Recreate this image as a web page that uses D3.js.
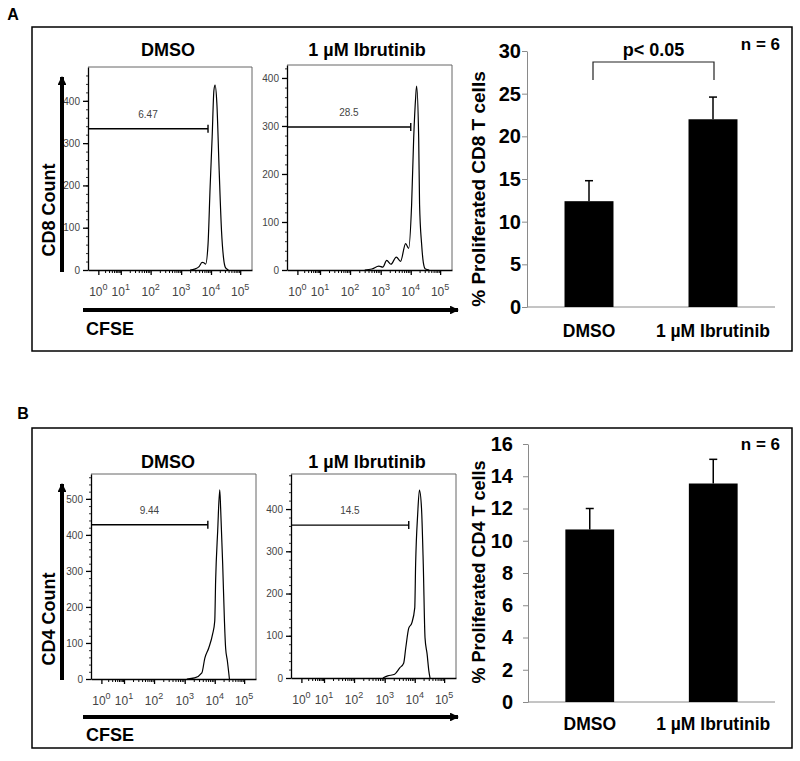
<!DOCTYPE html>
<html><head><meta charset="utf-8">
<script src="https://cdn.jsdelivr.net/npm/d3@7"></script>
<style>body{margin:0;background:#fff} svg{display:block}</style>
</head><body>
<script>
// ---------------- DATA ----------------
const conditions = ["DMSO", "1 µM Ibrutinib"];
const decadeTicks = [0, 1, 2, 3, 4, 5];

// histogram points: [log10 CFSE, count]
const cd8DmsoHist = [[3.3,0],[3.45,2],[3.6,8],[3.7,18],[3.76,17],[3.82,14],[3.9,60],[3.97,195],[4.04,315],[4.1,425],[4.14,437],[4.2,395],[4.28,235],[4.36,93],[4.43,28],[4.5,5],[4.6,0]];
const cd8IbrHist = [[2.48,0],[2.71,2],[2.94,8],[3.07,6],[3.2,20],[3.34,12],[3.52,27],[3.66,18],[3.83,55],[3.93,45],[4.03,137],[4.1,275],[4.17,362],[4.2,383],[4.27,275],[4.3,137],[4.37,54],[4.43,15],[4.5,2],[4.63,0]];
const cd4DmsoHist = [[3.07,0],[3.33,3],[3.57,17],[3.67,58],[3.8,86],[3.93,125],[4.0,161],[4.03,272],[4.1,411],[4.17,525],[4.2,475],[4.27,319],[4.33,161],[4.37,86],[4.43,50],[4.5,0]];
const cd4IbrHist = [[2.94,0],[3.1,5],[3.33,9],[3.5,24],[3.63,35],[3.7,71],[3.8,118],[3.9,130],[4.0,166],[4.03,270],[4.1,388],[4.16,445],[4.23,402],[4.29,270],[4.35,95],[4.42,57],[4.48,17],[4.52,0]];

const cd8GateLabels = ["6.47", "28.5"];
const cd8GateLevels = [334, 298];
const cd8GateEnds = [3.9, 4.0];
const cd4GateLabels = ["9.44", "14.5"];
const cd4GateLevels = [428, 362];
const cd4GateEnds = [3.77, 3.8];

const cd8CountTicks = [[0,100,200,300,400],[0,100,200,300,400]];
const cd4CountTicks = [[0,100,200,300,400,500],[0,100,200,300,400]];

const cd8Means = [12.4, 22.0];
const cd8Errors = [2.4, 2.6];
const cd4Means = [10.7, 13.55];
const cd4Errors = [1.3, 1.5];
const cd8PctTicks = [0,5,10,15,20,25,30];
const cd4PctTicks = [0,2,4,6,8,10,12,14,16];

// ---------------- DRAW ----------------
const W = 800, H = 761;
const svg = d3.select("body").append("svg").attr("width", W).attr("height", H);
const BOLD = "'Liberation Sans', Arial, sans-serif";
const NARROW = "'Liberation Sans Narrow', 'Arial Narrow', 'Liberation Sans', sans-serif";

// panel boxes
[[32,27,792,351],[32,428,792,748]].forEach(([x0,y0,x1,y1]) => {
  svg.append("rect").attr("x",x0).attr("y",y0).attr("width",x1-x0).attr("height",y1-y0)
    .attr("fill","none").attr("stroke","#000").attr("stroke-width",1.5);
});
svg.append("text").attr("x",13).attr("y",20).attr("text-anchor","middle")
  .style("font", `bold 16px ${BOLD}`).text("A");
svg.append("text").attr("x",23).attr("y",419).attr("text-anchor","middle")
  .style("font", `bold 16px ${BOLD}`).text("B");

// arrowheads
const defs = svg.append("defs");
defs.append("marker").attr("id","arr").attr("viewBox","0 0 10 10").attr("refX",9).attr("refY",5)
  .attr("markerWidth",2.2).attr("markerHeight",2.2).attr("orient","auto")
  .append("path").attr("d","M0,0 L10,5 L0,10 z").attr("fill","#000");

function drawHist(fr, yMax, ticks, data, gateLevel, gateEnd, gateLabel, title, titleX, titleY) {
  const g = svg.append("g");
  const fr8 = [0, 0.063, 0.2, 0.382, 0.568, 0.75, 0.928, 1];
  const x = d3.scaleLinear().domain([-0.35,0,1,2,3,4,5,5.4])
    .range(fr8.map(f => fr.x0 + f*(fr.x1-fr.x0)));
  const y = d3.scaleLinear().domain([0, yMax]).range([fr.y1, fr.y0]);

  g.append("path").attr("d", `M${fr.x0},${fr.y0}H${fr.x1}V${fr.y1}`)
    .attr("fill","none").attr("stroke","#666").attr("stroke-width",1);

  const minor = d3.range(0, yMax, 20);
  g.append("g").attr("transform",`translate(${fr.x0},0)`)
    .call(d3.axisLeft(y).tickValues(minor).tickSize(2).tickSizeOuter(0).tickFormat(""))
    .call(a => a.select(".domain").remove())
    .call(a => a.selectAll("line").attr("stroke","#333"));
  g.append("g").attr("transform",`translate(${fr.x0},0)`)
    .call(d3.axisLeft(y).tickValues(ticks).tickSize(5).tickSizeOuter(0).tickPadding(3).tickFormat(d3.format("d")))
    .call(a => a.select(".domain").attr("stroke","#000").attr("stroke-width",1.3))
    .call(a => a.selectAll("line").attr("stroke","#000").attr("stroke-width",1.3))
    .call(a => a.selectAll("text").style("font", `10px ${NARROW}`).attr("fill","#444"));

  const minorX = [];
  decadeTicks.slice(0,5).forEach(d => { for (let k=2;k<=9;k++) minorX.push(d + Math.log10(k)); });
  g.append("g").attr("transform",`translate(0,${fr.y1})`)
    .call(d3.axisBottom(x).tickValues(minorX).tickSize(3).tickSizeOuter(0).tickFormat(""))
    .call(a => a.select(".domain").remove())
    .call(a => a.selectAll("line").attr("stroke","#000"));
  g.append("g").attr("transform",`translate(0,${fr.y1})`)
    .call(d3.axisBottom(x).tickValues(decadeTicks).tickSize(5).tickSizeOuter(0).tickFormat(""))
    .call(a => a.select(".domain").attr("stroke","#000").attr("stroke-width",1.3))
    .call(a => a.selectAll("line").attr("stroke","#000").attr("stroke-width",1.3));
  decadeTicks.forEach(d => {
    const t = g.append("text").attr("x", x(d)).attr("y", fr.y1 + 26).attr("text-anchor","middle")
      .style("font", `12px ${NARROW}`).attr("fill","#444");
    t.append("tspan").text("10");
    t.append("tspan").attr("dy",-6).style("font-size","9px").text(d);
  });

  const line = d3.line().x(d => x(d[0])).y(d => y(d[1])).curve(d3.curveMonotoneX);
  g.append("path").attr("d", line(data)).attr("fill","none").attr("stroke","#000").attr("stroke-width",1.2);

  const gy = y(gateLevel), gx = x(gateEnd);
  g.append("line").attr("x1",fr.x0).attr("x2",gx).attr("y1",gy).attr("y2",gy).attr("stroke","#000").attr("stroke-width",1.4);
  g.append("line").attr("x1",gx).attr("x2",gx).attr("y1",gy-4).attr("y2",gy+4).attr("stroke","#000").attr("stroke-width",1.4);
  g.append("text").attr("x",(fr.x0+gx)/2).attr("y",gy-11).attr("text-anchor","middle")
    .style("font", `10px ${NARROW}`).attr("fill","#444").text(gateLabel);

  svg.append("text").attr("x",titleX).attr("y",titleY).attr("text-anchor","middle")
    .style("font", `bold 18px ${BOLD}`).text(title);
}

function drawFlowAxes(vx, vy0, vy1, vLabel, vLabelY, hy, hx0, hx1, cfseY) {
  svg.append("line").attr("x1",vx).attr("x2",vx).attr("y1",vy1).attr("y2",vy0)
    .attr("stroke","#000").attr("stroke-width",4).attr("marker-end","url(#arr)");
  svg.append("text").attr("transform",`translate(55,${vLabelY}) rotate(-90)`).attr("text-anchor","middle")
    .style("font", `bold 18px ${BOLD}`).text(vLabel);
  svg.append("line").attr("x1",hx0).attr("x2",hx1).attr("y1",hy).attr("y2",hy)
    .attr("stroke","#000").attr("stroke-width",4).attr("marker-end","url(#arr)");
  svg.append("text").attr("x",86).attr("y",cfseY)
    .style("font", `bold 18px ${BOLD}`).text("CFSE");
}

drawHist({x0:88,x1:252,y0:67,y1:270}, 480, cd8CountTicks[0], cd8DmsoHist, cd8GateLevels[0], cd8GateEnds[0], cd8GateLabels[0], conditions[0], 168, 56);
drawHist({x0:287,x1:452,y0:65,y1:270}, 427, cd8CountTicks[1], cd8IbrHist, cd8GateLevels[1], cd8GateEnds[1], cd8GateLabels[1], conditions[1], 367, 56);
drawFlowAxes(62, 77, 272, "CD8 Count", 210, 310, 83, 458, 335);

drawHist({x0:91,x1:256,y0:474,y1:679}, 569, cd4CountTicks[0], cd4DmsoHist, cd4GateLevels[0], cd4GateEnds[0], cd4GateLabels[0], conditions[0], 168, 468);
drawHist({x0:291,x1:456,y0:474,y1:678}, 483, cd4CountTicks[1], cd4IbrHist, cd4GateLevels[1], cd4GateEnds[1], cd4GateLabels[1], conditions[1], 367, 468);
drawFlowAxes(62, 484, 680, "CD4 Count", 619, 717, 83, 458, 741);

function drawBars(o) {
  const g = svg.append("g");
  const x = d3.scaleBand().domain(conditions).range([o.x0, o.x1]).paddingInner(0.605).paddingOuter(0.3025);
  const y = d3.scaleLinear().domain([0, o.max]).range([o.yBase, o.yTop]);
  g.append("g").attr("transform",`translate(${o.x0},0)`)
    .call(d3.axisLeft(y).tickValues(o.ticks).tickSize(5).tickSizeOuter(0).tickPadding(o.pad))
    .call(a => a.select(".domain").attr("stroke","#8a8a8a"))
    .call(a => a.selectAll("line").attr("stroke","#8a8a8a"))
    .call(a => a.selectAll("text").style("font", `bold 20px ${BOLD}`).attr("fill","#000"));
  g.append("line").attr("x1",o.x0).attr("x2",o.x1).attr("y1",y(0)).attr("y2",y(0)).attr("stroke","#8a8a8a");
  conditions.forEach((c, i) => {
    const cx = x(c) + x.bandwidth()/2;
    g.append("line").attr("x1",cx).attr("x2",cx).attr("y1",y(o.means[i])).attr("y2",y(o.means[i]+o.errors[i]))
      .attr("stroke","#000").attr("stroke-width",1.5);
    g.append("line").attr("x1",cx-4).attr("x2",cx+4).attr("y1",y(o.means[i]+o.errors[i])).attr("y2",y(o.means[i]+o.errors[i]))
      .attr("stroke","#000").attr("stroke-width",1.5);
    g.append("rect").attr("x",x(c)).attr("width",x.bandwidth()).attr("y",y(o.means[i]))
      .attr("height",y(0)-y(o.means[i])).attr("fill","#000");
    g.append("text").attr("x",cx).attr("y",o.catY).attr("text-anchor","middle")
      .style("font", `bold 17.5px ${BOLD}`).text(c);
  });
  g.append("text").attr("transform",`translate(485,${o.titleY}) rotate(-90)`).attr("text-anchor","middle")
    .style("font", `bold ${o.titleSize}px ${BOLD}`).text(o.title);
  g.append("text").attr("x",780).attr("y",o.nY).attr("text-anchor","end")
    .style("font", `bold 17px ${BOLD}`).text("n = 6");
  if (o.bracket) {
    const xa = x(conditions[0]) + x.bandwidth()/2 + 4, xb = x(conditions[1]) + x.bandwidth()/2 + 1;
    g.append("path").attr("d",`M${xa},80V62H${xb}V80`).attr("fill","none").attr("stroke","#222").attr("stroke-width",1.2);
    g.append("text").attr("x",(xa+xb)/2).attr("y",56).attr("text-anchor","middle")
      .style("font", `bold 18px ${BOLD}`).text("p< 0.05");
  }
}
drawBars({x0:527, x1:775, yBase:307, yTop:51, max:30, ticks:cd8PctTicks, pad:1, means:cd8Means, errors:cd8Errors,
  catY:337, title:"% Proliferated CD8 T cells", titleY:189, titleSize:19, nY:50, bracket:true});
drawBars({x0:528, x1:775, yBase:702, yTop:444, max:16, ticks:cd4PctTicks, pad:10, means:cd4Means, errors:cd4Errors,
  catY:730, title:"% Proliferated CD4 T cells", titleY:572, titleSize:18, nY:450, bracket:false});
</script>
</body></html>
